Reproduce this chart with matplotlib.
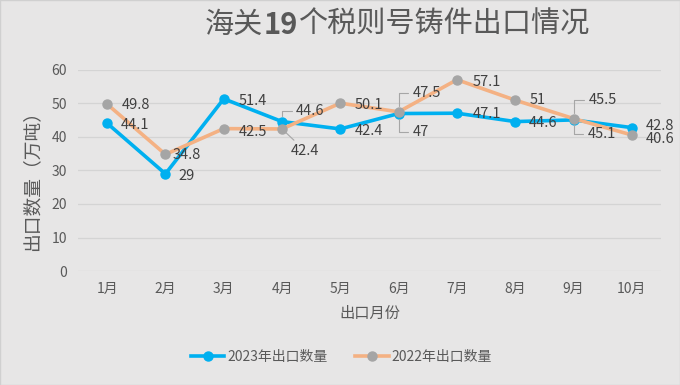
import matplotlib
matplotlib.use('Agg')
import matplotlib.pyplot as plt

plt.rcParams['font.family'] = ['Noto Sans CJK SC', 'DejaVu Sans']

months = ['1月', '2月', '3月', '4月', '5月', '6月', '7月', '8月', '9月', '10月']
exports_2023 = [44.1, 29, 51.4, 44.6, 42.4, 47, 47.1, 44.6, 45.1, 42.8]
exports_2022 = [49.8, 34.8, 42.5, 42.4, 50.1, 47.5, 57.1, 51, 45.5, 40.6]
y_ticks = [0, 10, 20, 30, 40, 50, 60]

# label offsets in pixels (dx, dy) and whether a leader line is drawn
off_2023 = [(14, -2), (13, -2), (15, -2), (14, 11), (14, -2),
            (14, -18), (16, -1), (14, -1), (14, -14), (14, 2)]
lead_2023 = [None, None, None, 'angle', None, 'angle', None, None, 'angle', None]
off_2022 = [(15, -1), (7, -1), (15, -3), (9, -22), (14, -2),
            (14, 19), (16, -2), (14, 0), (15, 19), (14, -4)]
lead_2022 = [None, None, None, 'line', None, 'angle', None, None, 'angle', None]

BG = '#e7e6e6'
BLUE = '#00b0f0'
ORANGE = '#f4b183'
GRAY_MK = '#a5a5a5'
TXT = '#595959'
LBL = '#404040'

fig = plt.figure(figsize=(6.8, 3.85), dpi=100, facecolor=BG)
ax = fig.add_axes([0.1147, 0.2961, 0.8573, 0.5221])
ax.set_facecolor(BG)

x = list(range(len(months)))
l1, = ax.plot(x, exports_2023, color=BLUE, lw=2.6, marker='o', ms=6.5,
              markerfacecolor=BLUE, markeredgecolor=BLUE, zorder=3,
              label='2023年出口数量')
l2, = ax.plot(x, exports_2022, color=ORANGE, lw=2.6, marker='o', ms=6.5,
              markerfacecolor=GRAY_MK, markeredgecolor=GRAY_MK, zorder=4,
              label='2022年出口数量')


def add_labels(values, offsets, leaders):
    for i, (v, (dx, dy), ld) in enumerate(zip(values, offsets, leaders)):
        arrow = None
        if ld == 'angle':
            arrow = dict(arrowstyle='-', color='#a6a6a6', lw=0.8,
                         shrinkA=1, shrinkB=4,
                         connectionstyle='angle,angleA=0,angleB=90,rad=0')
        elif ld == 'line':
            arrow = dict(arrowstyle='-', color='#a6a6a6', lw=0.8,
                         shrinkA=1, shrinkB=4)
        ax.annotate(f'{v:g}', xy=(i, v), xytext=(dx, dy),
                    textcoords='offset pixels', ha='left', va='center',
                    fontsize=10.5, color=LBL, arrowprops=arrow, zorder=5)


add_labels(exports_2023, off_2023, lead_2023)
add_labels(exports_2022, off_2022, lead_2022)

ax.set_xlim(-0.5, len(months) - 0.5)
ax.set_ylim(0, 60)
ax.set_xticks(x)
ax.set_xticklabels(months)
ax.set_yticks(y_ticks)
ax.tick_params(axis='both', length=0, labelsize=10, colors=TXT, pad=8)
ax.grid(axis='y', color='#d4d4d4', lw=0.9)
ax.set_axisbelow(True)
for s in ax.spines.values():
    s.set_visible(False)

ax.set_xlabel('出口月份', fontsize=11, color=TXT, labelpad=6)
fig.text(0.047, 0.543, '出口数量（万吨）', rotation=90, ha='center', va='center',
         fontsize=13.5, color=TXT)

# title: "19" is bold, the rest regular; lay the pieces out side by side
title_parts = [('海关', 'normal'), ('19', 'bold'), ('个税则号铸件出口情况', 'normal')]
renderer = fig.canvas.get_renderer()
pieces = [fig.text(0, 0.935, s, fontsize=21, fontweight=w, color=TXT,
                   ha='left', va='center') for s, w in title_parts]
widths = [p.get_window_extent(renderer).width for p in pieces]
cur = 397 - sum(widths) / 2
for p, w in zip(pieces, widths):
    p.set_x(cur / fig.bbox.width)
    cur += w

fig.legend(handles=[l1, l2], loc='center', bbox_to_anchor=(0.502, 0.073),
           ncol=2, frameon=False, fontsize=10, labelcolor=TXT,
           handlelength=2.4, columnspacing=2.0, handletextpad=0.2)

fig.patches.append(plt.Rectangle((0, 0), 1, 1, transform=fig.transFigure,
                                 fill=False, edgecolor='#d0d0d0', lw=1))

fig.savefig('out.png', dpi=100, facecolor=BG)
